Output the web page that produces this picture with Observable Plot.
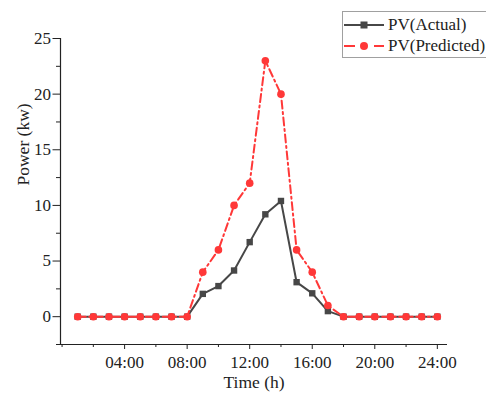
<!DOCTYPE html>
<html><head><meta charset="utf-8">
<script src="https://cdn.jsdelivr.net/npm/d3@7"></script>
<script src="https://cdn.jsdelivr.net/npm/@observablehq/plot@0.6"></script>
<style>
html,body{margin:0;padding:0;background:#fff;overflow:hidden;width:486px;height:401px}
#wrap{position:relative;width:486px;height:401px;overflow:hidden}
.legend{position:absolute;left:342px;top:11px;width:160px;height:45px;border:1px solid #a0a0a0;background:#fff;font-family:"Liberation Serif",serif;font-size:17px;color:#222}
.legend .row{position:absolute;left:0;height:20px;display:flex;align-items:center;white-space:nowrap}
.legend svg{display:block}
</style></head><body><div id="wrap"></div>
<script>
const hours = [1,2,3,4,5,6,7,8,9,10,11,12,13,14,15,16,17,18,19,20,21,22,23,24];
const actual = [0,0,0,0,0,0,0,0,2.05,2.75,4.15,6.7,9.2,10.4,3.1,2.1,0.5,0,0,0,0,0,0,0];
const predicted = [0,0,0,0,0,0,0,0,4,6,10,12,23,20,6,4,1,0,0,0,0,0,0,0];
const seriesNames = ["PV(Actual)", "PV(Predicted)"];
const xMajorTicks = [4,8,12,16,20,24];
const xMinorTicks = [0,2,6,10,14,18,22];
const yMajorTicks = [0,5,10,15,20,25];
const yMinorTicks = [-2.5,2.5,7.5,12.5,17.5,22.5];
const xDomain = [-0.1, 24.65];
const yDomain = [-2.5, 25];
const xTitle = "Time (h)";
const yTitle = "Power (kw)";

const actualData = hours.map((h,i) => ({h, v: actual[i]}));
const predData = hours.map((h,i) => ({h, v: predicted[i]}));
const grey = "#474747", red = "#ff3838";
const fmt = d => String(d).padStart(2,"0") + ":00";

const chart = Plot.plot({
  width: 486, height: 401,
  marginLeft: 60, marginRight: 39, marginTop: 38, marginBottom: 57,
  style: {fontFamily: "Liberation Serif, serif", fontSize: "17px", color: "#222", background: "#fff"},
  x: {domain: xDomain},
  y: {domain: yDomain},
  marks: [
    Plot.ruleY([yDomain[0]], {stroke: "#222", strokeWidth: 1.2}),
    Plot.ruleX([xDomain[0]], {stroke: "#222", strokeWidth: 1.2}),
    Plot.axisX(xMajorTicks, {tickSize: 5, tickPadding: 6, tickFormat: fmt, fontSize: 17, label: null, stroke: "#222"}),
    Plot.axisX(xMinorTicks, {tickSize: 3, tickFormat: () => "", label: null, stroke: "#222"}),
    Plot.axisY(yMajorTicks, {tickSize: 7.5, tickPadding: 2, fontSize: 17, label: null, stroke: "#222"}),
    Plot.axisY(yMinorTicks, {tickSize: 4, tickFormat: () => "", label: null, stroke: "#222"}),
    Plot.text([xTitle], {frameAnchor: "bottom", dy: 43, fontSize: 17.5, fill: "#222"}),
    Plot.text([yTitle], {frameAnchor: "left", dx: -37.5, dy: -6, rotate: -90, fontSize: 17.5, fill: "#222"}),
    Plot.line(actualData, {x: "h", y: "v", stroke: grey, strokeWidth: 2}),
    Plot.dot(actualData, {x: "h", y: "v", symbol: "square", r: 3.6, fill: grey, stroke: "none"}),
    Plot.line(predData, {x: "h", y: "v", stroke: red, strokeWidth: 2, strokeDasharray: "8,3.5,2,3.5"}),
    Plot.dot(predData, {x: "h", y: "v", symbol: "circle", r: 3.8, fill: red, stroke: "none"})
  ]
});
const wrap = document.getElementById("wrap");
wrap.appendChild(chart);

const legend = document.createElement("div");
legend.className = "legend";
const rows = [
  {name: seriesNames[0], color: grey, sym: "square"},
  {name: seriesNames[1], color: red, sym: "circle"}
];
rows.forEach((r, i) => {
  const row = document.createElement("div");
  row.className = "row";
  row.style.top = (i === 0 ? 3 : 24) + "px";
  const marker = r.sym === "square"
    ? `<rect x="17.5" y="6.5" width="7" height="7" fill="${r.color}"/>`
    : `<circle cx="21" cy="10" r="4" fill="${r.color}"/>`;
  const dash = r.sym === "circle" ? 'stroke-dasharray="11,19"' : '';
  row.innerHTML = `<svg width="44" height="20"><line x1="1" x2="41" y1="10" y2="10" stroke="${r.color}" stroke-width="2" ${dash}/>${marker}</svg><span style="margin-left:1px">${r.name}</span>`;
  legend.appendChild(row);
});
wrap.appendChild(legend);
</script>
</body></html>
